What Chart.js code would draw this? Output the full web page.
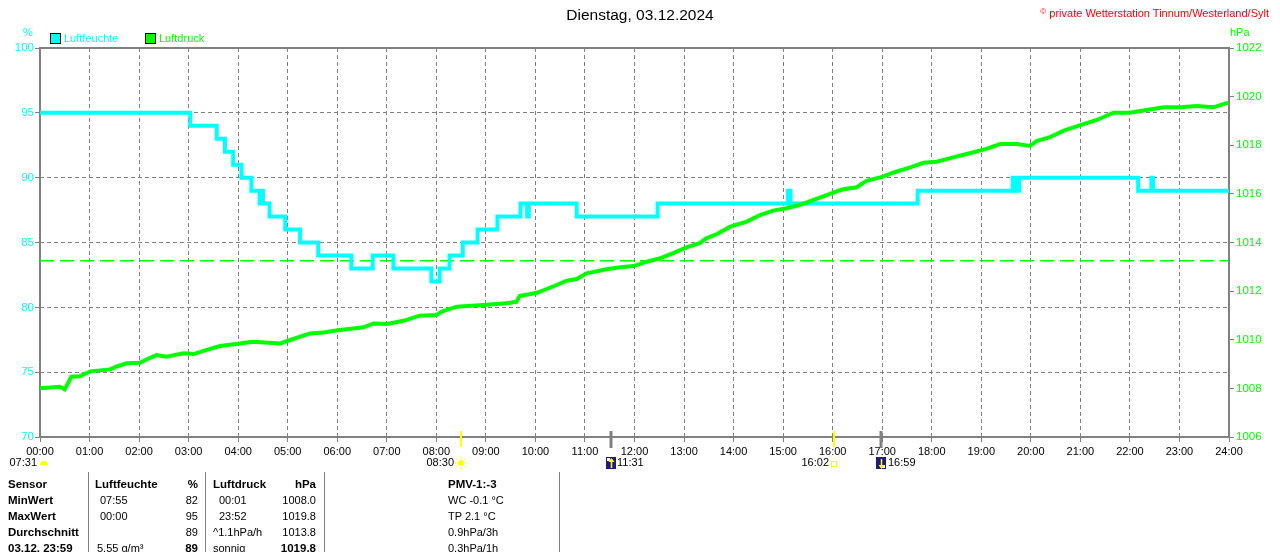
<!DOCTYPE html>
<html>
<head>
<meta charset="utf-8">
<title>Dienstag, 03.12.2024</title>
<script src="https://cdn.jsdelivr.net/npm/chart.js@4.4.1/dist/chart.umd.min.js"></script>
<style>
  body { margin: 0; background: #fff; font-family: "Liberation Sans", Arial, sans-serif; }
  #page { position: relative; width: 1280px; height: 552px; overflow: hidden; }
  #chart { position: absolute; left: 0; top: 0; }
  .t { position: absolute; white-space: nowrap; font-size: 11px; line-height: 14px; }
  .b { font-weight: bold; font-size: 11.5px; }
  .r { text-align: right; }
  .sep { position: absolute; top: 472px; width: 1px; height: 80px; background: #808080; }
  .sq { position: absolute; width: 9px; height: 9px; border: 1px solid #000; }
</style>
</head>
<body>
<div id="page">
  <canvas id="chart" width="1280" height="552"></canvas>

  <div class="t" style="left:0;width:1280px;top:6px;text-align:center;font-size:15.5px;line-height:18px;">Dienstag, 03.12.2024</div>
  <div class="t" style="right:11px;top:5px;color:#ff0000;font-size:11px;"><span style="font-size:8px;vertical-align:3px;">©</span> private Wetterstation Tinnum/Westerland/Sylt</div>

  <div class="t" style="left:23px;top:25px;color:#00ffff;">%</div>
  <div class="t" style="left:1230px;top:25px;color:#00ff00;">hPa</div>

  <div class="sq" style="left:50px;top:33px;background:#00ffff;"></div>
  <div class="t" style="left:64px;top:31px;color:#00ffff;">Luftfeuchte</div>
  <div class="sq" style="left:145px;top:33px;background:#00ff00;"></div>
  <div class="t" style="left:159px;top:31px;color:#00ff00;">Luftdruck</div>

  <div id="table"></div>
</div>

<script>
// x axis tick labels
const HOURS = ["00:00", "01:00", "02:00", "03:00", "04:00", "05:00", "06:00", "07:00",
  "08:00", "09:00", "10:00", "11:00", "12:00", "13:00", "14:00", "15:00", "16:00",
  "17:00", "18:00", "19:00", "20:00", "21:00", "22:00", "23:00", "24:00"];

// Luftfeuchte (%), value valid from that time on
const humTimes = ["00:00", "03:02", "03:34", "03:44", "03:54", "04:04", "04:16", "04:26",
  "04:28", "04:30", "04:38", "04:57", "05:15", "05:37", "06:17", "06:43", "07:08", "07:54",
  "08:04", "08:16", "08:32", "08:50", "09:14", "09:42", "09:50", "09:52", "10:50", "12:28",
  "15:06", "15:09", "17:43", "19:38", "19:40", "19:42", "19:44", "19:46", "22:10", "22:26",
  "22:28", "24:00"];
const humValues = [95, 94, 93, 92, 91, 90, 89, 88,
  89, 88, 87, 86, 85, 84, 83, 84, 83, 82,
  83, 84, 85, 86, 87, 88, 87, 88, 87, 88,
  89, 88, 89, 90, 89, 90, 89, 90, 89, 90,
  89, 89];

// Luftdruck (hPa)
const presTimes = ["00:00", "00:24", "00:30", "00:38", "00:48", "01:01", "01:25", "01:33",
  "01:45", "02:01", "02:09", "02:21", "02:33", "02:54", "03:06", "03:22", "03:38", "04:02",
  "04:18", "04:51", "05:03", "05:27", "05:43", "06:03", "06:32", "06:44", "07:00", "07:20",
  "07:40", "08:00", "08:08", "08:25", "08:57", "09:25", "09:37", "09:41", "10:02", "10:22",
  "10:38", "10:50", "11:02", "11:26", "11:43", "11:59", "12:15", "12:31", "12:47", "13:03",
  "13:19", "13:27", "13:40", "13:56", "14:16", "14:32", "14:48", "15:04", "15:20", "15:37",
  "15:53", "16:07", "16:13", "16:29", "16:41", "17:01", "17:13", "17:34", "17:50", "18:06",
  "18:26", "18:46", "19:07", "19:23", "19:43", "19:59", "20:07", "20:23", "20:40", "20:59",
  "21:20", "21:40", "22:00", "22:20", "22:41", "23:01", "23:21", "23:41", "23:59"];
const presValues = [1008.0, 1008.07, 1007.96, 1008.48, 1008.5, 1008.7, 1008.78, 1008.9,
  1009.03, 1009.05, 1009.19, 1009.37, 1009.3, 1009.44, 1009.41, 1009.58, 1009.74, 1009.85,
  1009.92, 1009.85, 1009.99, 1010.26, 1010.3, 1010.4, 1010.51, 1010.67, 1010.65, 1010.78,
  1010.99, 1011.02, 1011.18, 1011.36, 1011.43, 1011.5, 1011.56, 1011.8, 1011.93, 1012.2,
  1012.43, 1012.5, 1012.73, 1012.9, 1012.98, 1013.03, 1013.21, 1013.35, 1013.56, 1013.8,
  1013.97, 1014.17, 1014.35, 1014.65, 1014.86, 1015.13, 1015.31, 1015.41, 1015.54, 1015.75,
  1015.95, 1016.13, 1016.19, 1016.27, 1016.54, 1016.71, 1016.87, 1017.09, 1017.28, 1017.32,
  1017.5, 1017.67, 1017.86, 1018.05, 1018.05, 1017.97, 1018.17, 1018.33, 1018.6, 1018.82,
  1019.04, 1019.34, 1019.34, 1019.45, 1019.56, 1019.56, 1019.61, 1019.56, 1019.75];

const normPressure = 1013.25;

// sun / moon
const dawnTime = "07:31";
const sunRise = "08:30";
const sunSet = "16:02";
const moonRise = "11:31";
const moonSet = "16:59";

// table below the chart
const tableRows = [
  ["Sensor", "Luftfeuchte", "%", "Luftdruck", "hPa", "PMV-1:-3"],
  ["MinWert", "07:55", "82", "00:01", "1008.0", "WC -0.1 °C"],
  ["MaxWert", "00:00", "95", "23:52", "1019.8", "TP 2.1 °C"],
  ["Durchschnitt", "", "89", "^1.1hPa/h", "1013.8", "0.9hPa/3h"],
  ["03.12.  23:59", "5.55 g/m³", "89", "sonnig", "1019.8", "0.3hPa/1h"],
];

const FONT = '"Liberation Sans", Arial, sans-serif';

function toH(t) {
  const [h, m] = t.split(":").map(Number);
  return h + m / 60;
}

function buildTable() {
  const el = document.getElementById("table");
  const cols = [
    { left: 8, cls: "" },
    { left: 98, cls: "" },
    { right: 1082, cls: "r" },
    { left: 213, cls: "" },
    { right: 964, cls: "r" },
    { left: 448, cls: "" },
  ];
  let html = "";
  [88, 205, 324, 559].forEach((x) => {
    html += `<div class="sep" style="left:${x}px"></div>`;
  });
  tableRows.forEach((row, r) => {
    const top = 477 + r * 16;
    row.forEach((txt, c) => {
      const col = cols[c];
      let bold = r === 0 || c === 0 || (r === 4 && (c === 2 || c === 4));
      let left = col.left;
      if (r === 0 && c === 1) left = 95;
      if ((r === 1 || r === 2) && c === 1) left = 100;
      if ((r === 1 || r === 2) && c === 3) left = 219;
      if (r === 4 && c === 1) left = 97;
      const pos = col.right !== undefined ? `right:${col.right}px` : `left:${left}px`;
      html += `<div class="t ${bold ? "b" : ""}" style="${pos};top:${top}px">${txt}</div>`;
    });
  });
  el.innerHTML = html;
}

const framePlugin = {
  id: "frame",
  beforeDatasetsDraw(chart) {
    const { ctx, chartArea: a } = chart;
    ctx.save();
    ctx.strokeStyle = "#808080";
    ctx.lineWidth = 2;
    ctx.strokeRect(a.left, a.top, a.right - a.left, a.bottom - a.top);
    ctx.restore();
  },
};

function drawSun(ctx, cx, cy) {
  ctx.fillStyle = "#ffff00";
  ctx.strokeStyle = "#ffff00";
  ctx.lineWidth = 1;
  ctx.beginPath();
  ctx.arc(cx, cy, 3, 0, Math.PI * 2);
  ctx.fill();
  for (let i = 0; i < 8; i++) {
    const ang = (i * Math.PI) / 4;
    ctx.beginPath();
    ctx.moveTo(cx + Math.cos(ang) * 4, cy + Math.sin(ang) * 4);
    ctx.lineTo(cx + Math.cos(ang) * 6, cy + Math.sin(ang) * 6);
    ctx.stroke();
  }
}

function drawMoon(ctx, cx, cy, up) {
  ctx.fillStyle = "#1c1c80";
  ctx.fillRect(cx - 5, cy - 6, 10, 12);
  ctx.fillStyle = "#ffffff";
  ctx.fillRect(up ? cx - 4 : cx + 1, up ? cy - 5 : cy + 2, 3, 3);
  ctx.strokeStyle = "#ffff00";
  ctx.fillStyle = "#ffff00";
  ctx.lineWidth = 1.5;
  ctx.beginPath();
  ctx.moveTo(cx + 0.5, cy - 4);
  ctx.lineTo(cx + 0.5, cy + 5);
  ctx.stroke();
  ctx.beginPath();
  if (up) {
    ctx.moveTo(cx - 2.5, cy - 1); ctx.lineTo(cx + 0.5, cy - 5); ctx.lineTo(cx + 3.5, cy - 1);
  } else {
    ctx.moveTo(cx - 2.5, cy + 2); ctx.lineTo(cx + 0.5, cy + 6); ctx.lineTo(cx + 3.5, cy + 2);
  }
  ctx.fill();
}

const eventsPlugin = {
  id: "events",
  afterDraw(chart) {
    const { ctx, chartArea: a, scales } = chart;
    const px = (t) => Math.round(scales.x.getPixelForValue(toH(t)));
    ctx.save();

    ctx.strokeStyle = "#ffff00";
    ctx.lineWidth = 2;
    [sunRise, sunSet].forEach((t) => {
      ctx.beginPath();
      ctx.moveTo(px(t), a.bottom - 6);
      ctx.lineTo(px(t), a.bottom + 10);
      ctx.stroke();
    });
    ctx.strokeStyle = "#808080";
    ctx.lineWidth = 3;
    [moonRise, moonSet].forEach((t) => {
      ctx.beginPath();
      ctx.moveTo(px(t), a.bottom - 6);
      ctx.lineTo(px(t), a.bottom + 11);
      ctx.stroke();
    });

    const ly = a.bottom + 26;
    ctx.font = `11px ${FONT}`;
    ctx.fillStyle = "#000";
    ctx.textBaseline = "middle";

    // dawn, shown at the left edge
    ctx.textAlign = "right";
    ctx.fillText(dawnTime, a.left - 3, ly);
    ctx.fillStyle = "#ffff00";
    ctx.beginPath();
    ctx.arc(a.left + 4, ly + 2, 4, Math.PI, 0);
    ctx.fill();

    // sunrise
    ctx.fillStyle = "#000";
    ctx.fillText(sunRise, px(sunRise) - 7, ly);
    drawSun(ctx, px(sunRise), ly);

    // sunset
    ctx.fillStyle = "#000";
    ctx.fillText(sunSet, px(sunSet) - 5, ly);
    ctx.strokeStyle = "#ffff00";
    ctx.lineWidth = 1;
    ctx.strokeRect(px(sunSet) - 2.5, ly - 1.5, 5, 5);

    // moon
    drawMoon(ctx, px(moonRise), ly, true);
    drawMoon(ctx, px(moonSet), ly, false);
    ctx.fillStyle = "#000";
    ctx.textAlign = "left";
    ctx.fillText(moonRise, px(moonRise) + 6, ly);
    ctx.fillText(moonSet, px(moonSet) + 7, ly);

    ctx.restore();
  },
};

function buildChart() {
  const ctx = document.getElementById("chart").getContext("2d");
  const presData = presTimes.map((t, i) => ({ x: toH(t), y: presValues[i] }));
  const humData = humTimes.map((t, i) => ({ x: toH(t), y: humValues[i] }));

  return new Chart(ctx, {
    type: "line",
    data: {
      datasets: [
        {
          label: "Luftdruck",
          data: presData,
          yAxisID: "yP",
          borderColor: "#00ff00",
          borderWidth: 4,
          pointRadius: 0,
          tension: 0,
        },
        {
          label: "Luftfeuchte",
          data: humData,
          yAxisID: "yH",
          stepped: true,
          borderColor: "#00ffff",
          borderWidth: 4,
          pointRadius: 0,
        },
        {
          label: "Norm",
          data: [{ x: 0, y: normPressure }, { x: 24, y: normPressure }],
          yAxisID: "yP",
          borderColor: "#00ff00",
          borderWidth: 1.5,
          borderDash: [14, 6],
          pointRadius: 0,
        },
      ],
    },
    options: {
      responsive: false,
      animation: false,
      devicePixelRatio: 1,
      layout: { padding: { top: 48, left: 0, right: 0, bottom: 0 } },
      plugins: { legend: { display: false }, title: { display: false }, tooltip: { enabled: false } },
      scales: {
        x: {
          type: "linear",
          min: 0,
          max: 24,
          afterFit: (s) => { s.height = 115; },
          ticks: {
            stepSize: 1,
            autoSkip: false,
            maxRotation: 0,
            color: "#000",
            padding: 3,
            font: { family: FONT, size: 11 },
            callback: (v) => HOURS[v],
          },
          grid: { color: "#808080", lineWidth: 1, tickLength: 5, tickColor: "#808080" },
          border: { display: false, dash: [4, 3] },
        },
        yH: {
          position: "left",
          min: 70,
          max: 100,
          afterFit: (s) => { s.width = 40; },
          ticks: { stepSize: 5, color: "#00ffff", padding: 1, font: { family: FONT, size: 11.5 },
            callback: (v) => String(v) },
          grid: { color: "#808080", lineWidth: 1, tickLength: 5, tickColor: "#808080" },
          border: { display: false, dash: [4, 3] },
        },
        yP: {
          position: "right",
          min: 1006,
          max: 1022,
          afterFit: (s) => { s.width = 51; },
          ticks: { stepSize: 2, color: "#00ff00", padding: 2, font: { family: FONT, size: 11.5 },
            callback: (v) => String(v) },
          grid: { drawOnChartArea: false, tickLength: 5, tickColor: "#808080" },
          border: { display: false },
        },
      },
    },
    plugins: [framePlugin, eventsPlugin],
  });
}

buildTable();
buildChart();
</script>
</body>
</html>
